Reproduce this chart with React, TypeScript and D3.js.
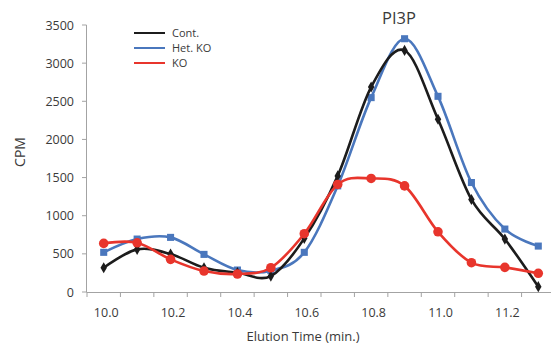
import React, { useEffect, useRef } from "react";
import * as d3 from "d3";

const TIMES = ["10.0", "10.1", "10.2", "10.3", "10.4", "10.5", "10.6", "10.7", "10.8", "10.9", "11.0", "11.1", "11.2", "11.3"];
const X_LABELS = ["10.0", "10.2", "10.4", "10.6", "10.8", "11.0", "11.2"];
const Y_TICKS = [0, 500, 1000, 1500, 2000, 2500, 3000, 3500];

const CONT = [318, 559, 497, 318, 253, 209, 703, 1522, 2687, 3167, 2264, 1213, 694, 70];
const HET_KO = [520, 694, 716, 493, 288, 280, 520, 1391, 2548, 3320, 2565, 1435, 825, 602];
const KO = [637, 645, 428, 275, 236, 318, 764, 1410, 1488, 1391, 789, 384, 323, 245];

const SERIES = [
    { name: "Het. KO", values: HET_KO, color: "#4a77bd", marker: "square" },
    { name: "Cont.", values: CONT, color: "#1c1c1c", marker: "diamond" },
    { name: "KO", values: KO, color: "#e8352c", marker: "circle" },
];
const LEGEND_ORDER = ["Cont.", "Het. KO", "KO"];

const FONT = "'Open Sans', 'Noto Sans', sans-serif";
const AXIS = "#a3a3a3";
const TEXT = "#3a3a3a";

const App = () => {
    const ref = useRef<HTMLDivElement>(null);

    useEffect(() => {
        const width = 551;
        const height = 345;

        const svg = d3
            .select(ref.current)
            .html("")
            .append("svg")
            .attr("width", width)
            .attr("height", height)
            .style("display", "block")
            .style("position", "absolute")
            .style("left", "0px")
            .style("top", "0px")
            .style("background", "#fff")
            .attr("font-family", FONT);

        const x = d3.scaleBand<string>().domain(TIMES).range([87, 555]).paddingInner(0).paddingOuter(0);
        const y = d3.scaleLinear().domain([0, 3500]).range([292, 25]);
        const cx = (t: string) => (x(t) ?? 0) + x.bandwidth() / 2;

        // y axis
        svg.append("line")
            .attr("x1", 86.5).attr("x2", 86.5)
            .attr("y1", y(3500)).attr("y2", y(0))
            .attr("stroke", AXIS).attr("stroke-width", 1);
        Y_TICKS.forEach((v) => {
            svg.append("line")
                .attr("x1", 82).attr("x2", 86.5)
                .attr("y1", y(v)).attr("y2", y(v))
                .attr("stroke", AXIS);
            svg.append("text")
                .attr("x", 74).attr("y", y(v) + 4.5)
                .attr("text-anchor", "end")
                .attr("font-size", "12.5px")
                .attr("fill", TEXT)
                .text(v);
        });

        // x axis
        svg.append("line")
            .attr("x1", 86.5).attr("x2", width)
            .attr("y1", y(0) + 0.5).attr("y2", y(0) + 0.5)
            .attr("stroke", AXIS);
        const bounds = TIMES.map((t) => x(t) ?? 0).concat([x.range()[1]]);
        bounds.forEach((bx) => {
            svg.append("line")
                .attr("x1", bx).attr("x2", bx)
                .attr("y1", y(0)).attr("y2", y(0) + 5)
                .attr("stroke", AXIS);
        });
        X_LABELS.forEach((t) => {
            svg.append("text")
                .attr("x", cx(t) + 2.5).attr("y", 317)
                .attr("text-anchor", "middle")
                .attr("font-size", "12.5px")
                .attr("fill", TEXT)
                .text(t);
        });

        // axis titles
        svg.append("text")
            .attr("x", 303).attr("y", 341)
            .attr("text-anchor", "middle")
            .attr("font-size", "13px")
            .attr("fill", TEXT)
            .text("Elution Time (min.)");
        svg.append("text")
            .attr("transform", "translate(25,152) rotate(-90)")
            .attr("text-anchor", "middle")
            .attr("font-size", "14px")
            .attr("fill", TEXT)
            .text("CPM");
        svg.append("text")
            .attr("x", 399).attr("y", 24)
            .attr("text-anchor", "middle")
            .attr("font-size", "16.5px")
            .attr("fill", TEXT)
            .text("PI3P");

        // series
        const line = d3
            .line<number>()
            .x((_, i) => cx(TIMES[i]))
            .y((d) => y(d))
            .curve(d3.curveCatmullRom.alpha(0));

        SERIES.forEach((s) => {
            const g = svg.append("g");
            g.append("path")
                .attr("d", line(s.values))
                .attr("fill", "none")
                .attr("stroke", s.color)
                .attr("stroke-width", 2.6);
            const sym =
                s.marker === "square" ? d3.symbolSquare : s.marker === "circle" ? d3.symbolCircle : d3.symbolDiamond;
            const size = s.marker === "square" ? 50 : s.marker === "circle" ? 72 : 36;
            g.selectAll("path.m")
                .data(s.values)
                .join("path")
                .attr("class", "m")
                .attr("d", d3.symbol().type(sym).size(size)())
                .attr("transform", (d, i) => `translate(${cx(TIMES[i])},${y(d)})`)
                .attr("fill", s.color);
        });

        // legend
        LEGEND_ORDER.forEach((name, i) => {
            const s = SERIES.find((d) => d.name === name)!;
            const ly = 33 + i * 15;
            svg.append("line")
                .attr("x1", 134).attr("x2", 165)
                .attr("y1", ly).attr("y2", ly)
                .attr("stroke", s.color)
                .attr("stroke-width", 2);
            svg.append("text")
                .attr("x", 172).attr("y", ly + 4)
                .attr("font-size", "11px")
                .attr("fill", TEXT)
                .text(name);
        });
    }, []);

    return <div ref={ref} />;
};

export default App;
